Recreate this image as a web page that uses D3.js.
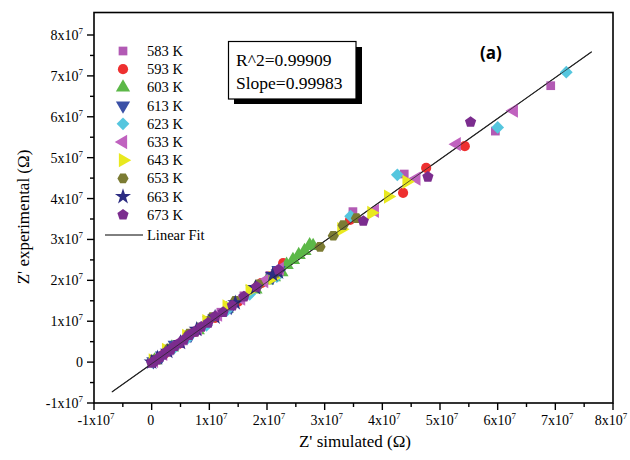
<!DOCTYPE html>
<html>
<head>
<meta charset="utf-8">
<script src="https://cdn.jsdelivr.net/npm/d3@7"></script>
<style>
  html, body { margin: 0; padding: 0; background: #fff; }
  svg { display: block; }
</style>
</head>
<body>
<svg id="chart" width="630" height="460"></svg>
<script>
// ---- Data (Ω) ----
const tickValues = [-1e7, 0, 1e7, 2e7, 3e7, 4e7, 5e7, 6e7, 7e7, 8e7];
const tickLabels = ["-1x10|7", "0", "1x10|7", "2x10|7", "3x10|7", "4x10|7", "5x10|7", "6x10|7", "7x10|7", "8x10|7"];

const temps = ["583 K", "593 K", "603 K", "613 K", "623 K", "633 K", "643 K", "653 K", "663 K", "673 K"];

const x583 = [0.02e7, 0.12e7, 0.30e7, 0.55e7, 0.85e7, 1.20e7, 1.60e7, 2.05e7, 3.49e7, 4.38e7, 5.96e7, 6.92e7];
const y583 = [0.00e7, 0.10e7, 0.27e7, 0.52e7, 0.86e7, 1.22e7, 1.62e7, 2.12e7, 3.68e7, 4.60e7, 5.65e7, 6.76e7];

const x593 = [0.00e7, 0.08e7, 0.22e7, 0.45e7, 0.75e7, 1.10e7, 1.50e7, 1.90e7, 2.28e7, 3.44e7, 4.36e7, 4.76e7, 5.43e7];
const y593 = [0.01e7, 0.06e7, 0.20e7, 0.43e7, 0.74e7, 1.08e7, 1.48e7, 1.93e7, 2.42e7, 3.48e7, 4.14e7, 4.75e7, 5.28e7];

const x603 = [0.05e7, 0.35e7, 0.80e7, 1.30e7, 1.80e7, 2.00e7, 2.12e7, 2.25e7, 2.34e7, 2.45e7, 2.55e7, 2.65e7, 2.74e7, 2.80e7];
const y603 = [0.04e7, 0.36e7, 0.78e7, 1.30e7, 1.78e7, 2.00e7, 2.08e7, 2.20e7, 2.38e7, 2.50e7, 2.62e7, 2.72e7, 2.86e7, 2.84e7];

const x613 = [0.03e7, 0.18e7, 0.40e7, 0.68e7, 1.00e7, 1.38e7, 1.75e7, 2.10e7, 2.20e7];
const y613 = [0.02e7, 0.16e7, 0.42e7, 0.66e7, 1.02e7, 1.35e7, 1.78e7, 2.08e7, 2.25e7];

const x623 = [0.01e7, 0.15e7, 0.38e7, 0.62e7, 0.95e7, 1.30e7, 1.70e7, 2.17e7, 3.45e7, 4.26e7, 6.00e7, 7.19e7];
const y623 = [0.00e7, 0.12e7, 0.33e7, 0.58e7, 0.90e7, 1.26e7, 1.66e7, 2.09e7, 3.57e7, 4.58e7, 5.74e7, 7.09e7];

const x633 = [0.04e7, 0.20e7, 0.50e7, 0.80e7, 1.15e7, 1.55e7, 1.95e7, 2.22e7, 3.87e7, 4.59e7, 5.29e7, 6.28e7];
const y633 = [0.03e7, 0.20e7, 0.50e7, 0.82e7, 1.16e7, 1.55e7, 1.98e7, 2.28e7, 3.70e7, 4.49e7, 5.33e7, 6.15e7];

const x643 = [0.02e7, 0.25e7, 0.60e7, 0.95e7, 1.30e7, 1.70e7, 2.10e7, 3.29e7, 3.81e7, 4.10e7, 4.42e7];
const y643 = [0.04e7, 0.30e7, 0.64e7, 1.00e7, 1.36e7, 1.74e7, 2.06e7, 3.25e7, 3.65e7, 4.05e7, 4.41e7];

const x653 = [0.05e7, 0.30e7, 0.65e7, 1.05e7, 1.45e7, 1.85e7, 2.15e7, 2.92e7, 3.15e7, 3.32e7, 3.55e7];
const y653 = [0.06e7, 0.33e7, 0.70e7, 1.10e7, 1.50e7, 1.90e7, 2.18e7, 2.82e7, 3.09e7, 3.35e7, 3.52e7];

const x663 = [0.00e7, 0.10e7, 0.28e7, 0.50e7, 0.78e7, 1.10e7, 1.45e7, 1.80e7, 2.10e7, 2.20e7];
const y663 = [0.00e7, 0.10e7, 0.26e7, 0.48e7, 0.80e7, 1.10e7, 1.45e7, 1.82e7, 2.14e7, 2.20e7];

const x673 = [0.00e7, 0.04e7, 0.09e7, 0.14e7, 0.20e7, 0.26e7, 0.33e7, 0.40e7, 0.48e7, 0.56e7, 0.65e7, 0.75e7, 0.86e7, 0.98e7, 1.10e7, 1.24e7, 1.40e7, 1.60e7, 1.82e7, 2.20e7, 3.67e7, 4.79e7, 5.53e7];
const y673 = [-0.02e7, 0.02e7, 0.06e7, 0.12e7, 0.18e7, 0.25e7, 0.30e7, 0.39e7, 0.46e7, 0.55e7, 0.66e7, 0.74e7, 0.86e7, 0.96e7, 1.12e7, 1.22e7, 1.38e7, 1.60e7, 1.84e7, 2.26e7, 3.45e7, 4.53e7, 5.87e7];

const fitX = [-0.69e7, 7.63e7];
const fitSlope = 0.99983;
const fitIntercept = -0.04e7;
const r2Text = "R^2=0.99909";
const slopeText = "Slope=0.99983";

// ---- Styles ----
const seriesX = [x583, x593, x603, x613, x623, x633, x643, x653, x663, x673];
const seriesY = [y583, y593, y603, y613, y623, y633, y643, y653, y663, y673];
const colors = ["#b25ab4", "#ee3030", "#5cb848", "#3a50a6", "#55c6de", "#c062bf", "#e9e91f", "#7b7b33", "#2c2c82", "#7b2c8e"];
const shapes = ["square", "circle", "up", "down", "diamond", "left", "right", "hexagon", "star", "pentagon"];

const svg = d3.select("#chart");
const serif = "'Liberation Serif', 'Times New Roman', serif";

const x = d3.scaleLinear().domain([-1e7, 8e7]).range([94, 613]);
const y = d3.scaleLinear().domain([-1e7, 8e7]).range([403, 35]);
const yTop = y(8.55e7);

function polyPath(n, r, rot) {
  const pts = d3.range(n).map(i => {
    const a = rot + i * 2 * Math.PI / n;
    return [r * Math.cos(a), r * Math.sin(a)];
  });
  return "M" + pts.map(p => p.join(",")).join("L") + "Z";
}
function shapePath(s) {
  switch (s) {
    case "square": return d3.symbol(d3.symbolSquare, 76)();
    case "circle": return d3.symbol(d3.symbolCircle, 82)();
    case "up": return d3.symbol(d3.symbolTriangle, 88)();
    case "down": return d3.symbol(d3.symbolTriangle, 88)();
    case "left": return d3.symbol(d3.symbolTriangle, 88)();
    case "right": return d3.symbol(d3.symbolTriangle, 88)();
    case "diamond": return polyPath(4, 6.4, -Math.PI / 2);
    case "hexagon": return polyPath(6, 5.6, 0);
    case "pentagon": return polyPath(5, 5.9, -Math.PI / 2);
    case "star": return d3.symbol(d3.symbolStar, 80)();
  }
}
function shapeRot(s) {
  return s === "down" ? 180 : s === "left" ? -90 : s === "right" ? 90 : 0;
}

// Frame
svg.append("rect").attr("x", x(-1e7)).attr("y", yTop)
  .attr("width", x(8e7) - x(-1e7)).attr("height", y(-1e7) - yTop)
  .attr("fill", "none").attr("stroke", "#000").attr("stroke-width", 1.6);

// Ticks
const minor = d3.range(-0.5e7, 8.5e7, 1e7);
tickValues.forEach(v => {
  svg.append("line").attr("x1", x(v)).attr("x2", x(v)).attr("y1", y(-1e7)).attr("y2", y(-1e7) + 7)
    .attr("stroke", "#000").attr("stroke-width", 1.4);
  svg.append("line").attr("y1", y(v)).attr("y2", y(v)).attr("x1", x(-1e7)).attr("x2", x(-1e7) - 7)
    .attr("stroke", "#000").attr("stroke-width", 1.4);
});
minor.forEach(v => {
  svg.append("line").attr("x1", x(v)).attr("x2", x(v)).attr("y1", y(-1e7)).attr("y2", y(-1e7) + 4)
    .attr("stroke", "#000").attr("stroke-width", 1.4);
  svg.append("line").attr("y1", y(v)).attr("y2", y(v)).attr("x1", x(-1e7)).attr("x2", x(-1e7) - 4)
    .attr("stroke", "#000").attr("stroke-width", 1.4);
});

function writeLabel(t, label) {
  const parts = label.split("|");
  t.append("tspan").text(parts[0]);
  if (parts[1]) t.append("tspan").attr("dy", -6).attr("font-size", 9).text(parts[1]);
}
tickValues.forEach((v, i) => {
  const tx = svg.append("text").attr("x", x(v) + (i === 1 ? -1 : (i === 9 ? -2 : 2))).attr("y", 425)
    .attr("text-anchor", "middle").attr("font-family", serif).attr("font-size", 14);
  writeLabel(tx, tickLabels[i]);
  const ty = svg.append("text").attr("x", 83).attr("y", y(v) + 5)
    .attr("text-anchor", "end").attr("font-family", serif).attr("font-size", 14);
  writeLabel(ty, tickLabels[i]);
});

// Axis titles
svg.append("text").attr("x", 355).attr("y", 447).attr("text-anchor", "middle")
  .attr("font-family", serif).attr("font-size", 17).text("Z' simulated (Ω)");
svg.append("text").attr("transform", "translate(29,217) rotate(-90)").attr("text-anchor", "middle")
  .attr("font-family", serif).attr("font-size", 17).text("Z' experimental (Ω)");

// Fit line
svg.append("line")
  .attr("x1", x(fitX[0])).attr("y1", y(fitSlope * fitX[0] + fitIntercept))
  .attr("x2", x(fitX[1])).attr("y2", y(fitSlope * fitX[1] + fitIntercept))
  .attr("stroke", "#222").attr("stroke-width", 1.1);

// Points
seriesX.forEach((xs, si) => {
  const g = svg.append("g");
  g.selectAll("path").data(xs.map((v, i) => [v, seriesY[si][i]])).join("path")
    .attr("d", shapePath(shapes[si]))
    .attr("transform", d => `translate(${x(d[0])},${y(d[1])}) rotate(${shapeRot(shapes[si])})`)
    .attr("fill", colors[si]);
});
// fit line visible through the markers
svg.append("line")
  .attr("x1", x(fitX[0])).attr("y1", y(fitSlope * fitX[0] + fitIntercept))
  .attr("x2", x(fitX[1])).attr("y2", y(fitSlope * fitX[1] + fitIntercept))
  .attr("stroke", "#222").attr("stroke-width", 0.9).attr("opacity", 0.8);

// Legend
const lg = svg.append("g");
temps.forEach((t, i) => {
  const cy = 51 + i * 18.2;
  lg.append("path").attr("d", shapePath(shapes[i]))
    .attr("transform", `translate(123,${cy}) rotate(${shapeRot(shapes[i])})`)
    .attr("fill", colors[i]);
  lg.append("text").attr("x", 147).attr("y", cy + 5).attr("font-family", serif)
    .attr("font-size", 14.5).text(t);
});
lg.append("line").attr("x1", 105).attr("x2", 143).attr("y1", 235).attr("y2", 235)
  .attr("stroke", "#000").attr("stroke-width", 1);
lg.append("text").attr("x", 147).attr("y", 240).attr("font-family", serif)
  .attr("font-size", 14.5).text("Linear Fit");

// Stats box
svg.append("rect").attr("x", 234).attr("y", 47).attr("width", 128).attr("height", 57).attr("fill", "#000");
svg.append("rect").attr("x", 228.5).attr("y", 41.5).attr("width", 127.5).attr("height", 57.5)
  .attr("fill", "#fff").attr("stroke", "#000").attr("stroke-width", 1.2);
svg.append("text").attr("x", 236).attr("y", 66).attr("font-family", serif).attr("font-size", 17.5).text(r2Text);
svg.append("text").attr("x", 236).attr("y", 89).attr("font-family", serif).attr("font-size", 17.5).text(slopeText);

// Panel label
svg.append("text").attr("x", 491).attr("y", 59).attr("text-anchor", "middle")
  .attr("font-family", "'Open Sans', 'Liberation Sans', sans-serif").attr("font-weight", "bold")
  .attr("font-size", 17).text("(a)");
</script>
</body>
</html>
